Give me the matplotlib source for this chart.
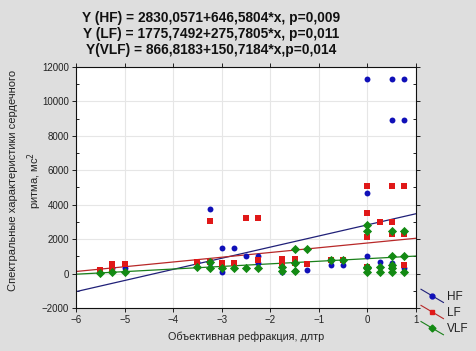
import matplotlib
matplotlib.use("Agg")
import matplotlib.pyplot as plt
import numpy as np
from matplotlib.lines import Line2D
from matplotlib.legend_handler import HandlerBase
from matplotlib.ticker import MultipleLocator

plt.rcParams['font.family'] = ['Liberation Sans', 'DejaVu Sans']

# ---- data ----
hf_x = [-5.25, -5, -3.5, -3.25, -3.25, -3, -3, -2.75, -2.5, -2.25, -2.25,
        -1.75, -1.5, -1.25, -0.75, -0.5, 0, 0, 0, 0, 0.25,
        0.5, 0.5, 0.5, 0.5, 0.75, 0.75, 0.75]
hf_y = [350, 350, 700, 3750, 600, 1500, 100, 1500, 1000, 1000, 600,
        100, 150, 200, 500, 500, 11300, 4700, 1000, 300, 700,
        11300, 8900, 600, 300, 11300, 8900, 350]

lf_x = [-5.5, -5.25, -5.25, -5, -3.5, -3.25, -3.25, -3, -3, -2.75, -2.5,
        -2.25, -2.25, -1.75, -1.75, -1.5, -1.5, -1.25, -0.75, -0.5,
        0, 0, 0, 0, 0.25, 0.5, 0.5, 0.5, 0.5, 0.75, 0.75, 0.75]
lf_y = [200, 550, 250, 550, 700, 3050, 700, 600, 400, 600, 3250,
        3250, 800, 850, 600, 850, 600, 550, 800, 800,
        5100, 3500, 2100, 400, 3000, 5100, 3000, 2300, 400, 5100, 2300, 500]

vlf_x = [-5.5, -5.25, -5, -3.5, -3.25, -3.25, -3, -2.75, -2.5, -2.25,
         -1.75, -1.75, -1.5, -1.5, -1.5, -1.25, -0.75, -0.5,
         0, 0, 0, 0, 0, 0.25, 0.25, 0.5, 0.5, 0.5, 0.5, 0.5,
         0.75, 0.75, 0.75]
vlf_y = [50, 100, 100, 400, 700, 300, 300, 300, 300, 300,
         400, 150, 1400, 600, 150, 1400, 800, 800,
         2800, 2500, 400, 300, 100, 400, 100, 2500, 1000, 500, 300, 100,
         2500, 1000, 100]

# regression coefficients (intercept, slope)
hf_fit = (2830.0571, 646.5804)
lf_fit = (1775.7492, 275.7805)
vlf_fit = (866.8183, 150.7184)

titles = ["Y (HF) = 2830,0571+646,5804*x, p=0,009",
          "Y (LF) = 1775,7492+275,7805*x, p=0,011",
          "Y(VLF) = 866,8183+150,7184*x,p=0,014"]

bg = '#dedede'
fig = plt.figure(figsize=(4.76, 3.51), dpi=100, facecolor=bg)
ax = fig.add_axes([76/476, 1-308/351, 340/476, 241/351])
ax.set_facecolor('white')

c_hf, c_lf, c_vlf = '#1010b8', '#e01818', '#138a13'
l_hf, l_lf, l_vlf = '#202078', '#b82828', '#1a801a'

xl = np.array([-6, 1])
ax.plot(xl, hf_fit[0] + hf_fit[1]*xl, color=l_hf, lw=0.9, zorder=2)
ax.plot(xl, lf_fit[0] + lf_fit[1]*xl, color=l_lf, lw=0.9, zorder=2)
ax.plot(xl, vlf_fit[0] + vlf_fit[1]*xl, color=l_vlf, lw=0.9, zorder=2)

ax.scatter(hf_x, hf_y, s=18, marker='o', color=c_hf, zorder=3, linewidths=0)
ax.scatter(lf_x, lf_y, s=18, marker='s', color=c_lf, zorder=4, linewidths=0)
ax.scatter(vlf_x, vlf_y, s=22, marker='D', color=c_vlf, zorder=5, linewidths=0)

ax.set_xlim(-6, 1)
ax.set_ylim(-2000, 12000)
ax.xaxis.set_major_locator(MultipleLocator(1))
ax.yaxis.set_major_locator(MultipleLocator(2000))
ax.yaxis.set_minor_locator(MultipleLocator(1000))
ax.grid(True, which='major', color='#e6e6e6', lw=0.8, zorder=0)
ax.set_axisbelow(True)
ax.tick_params(axis='both', which='major', labelsize=7, labelcolor='#222222',
               length=3, width=0.6, direction='out', pad=2)
ax.tick_params(axis='y', which='minor', length=2.5, width=0.6, direction='in',
               right=True)
ax.tick_params(axis='y', which='major', right=True)
ax.tick_params(axis='x', which='major', top=True)
for sp in ax.spines.values():
    sp.set_linewidth(0.8)
    sp.set_color('#111111')

ax.set_xlabel("Объективная рефракция, длтр", fontsize=7.8, color='#222222', labelpad=5)
ax.set_ylabel("Спектральные характеристики сердечного\nритма, мс$^2$",
              fontsize=8, color='#222222', linespacing=1.5)
ax.yaxis.set_label_coords(-0.095, 0.53)

for i, t in enumerate(titles):
    fig.text(211/476, 1 - (18 + i*16)/351, t, ha='center', va='center',
             fontsize=9.9, fontweight='bold', color='#111111')


class DiagHandler(HandlerBase):
    def create_artists(self, legend, orig_handle, xdescent, ydescent,
                       width, height, fontsize, trans):
        x0, x1 = -xdescent, -xdescent + width
        y0, y1 = -ydescent + height*1.3, -ydescent - height*0.3
        ln = Line2D([x0, x1], [y0, y1], color=orig_handle.get_color(), lw=0.8)
        mk = Line2D([(x0+x1)/2], [(y0+y1)/2], marker=orig_handle.get_marker(),
                    color=orig_handle.get_markerfacecolor(), ms=3.5, lw=0)
        ln.set_transform(trans)
        mk.set_transform(trans)
        return [ln, mk]


handles = [Line2D([], [], color=l_hf, marker='o', markerfacecolor=c_hf),
           Line2D([], [], color=l_lf, marker='s', markerfacecolor=c_lf),
           Line2D([], [], color=l_vlf, marker='D', markerfacecolor=c_vlf)]
leg = fig.legend(handles, ['HF', 'LF', 'VLF'], loc='upper left',
                 bbox_to_anchor=(421/476, 1-291/351), frameon=False,
                 fontsize=8.5, handlelength=1.9, handletextpad=0.3,
                 labelspacing=0.35, borderpad=0, borderaxespad=0,
                 handler_map={Line2D: DiagHandler()})
for t in leg.get_texts():
    t.set_color('#222222')

fig.savefig('out.png', dpi=100, facecolor=bg)
